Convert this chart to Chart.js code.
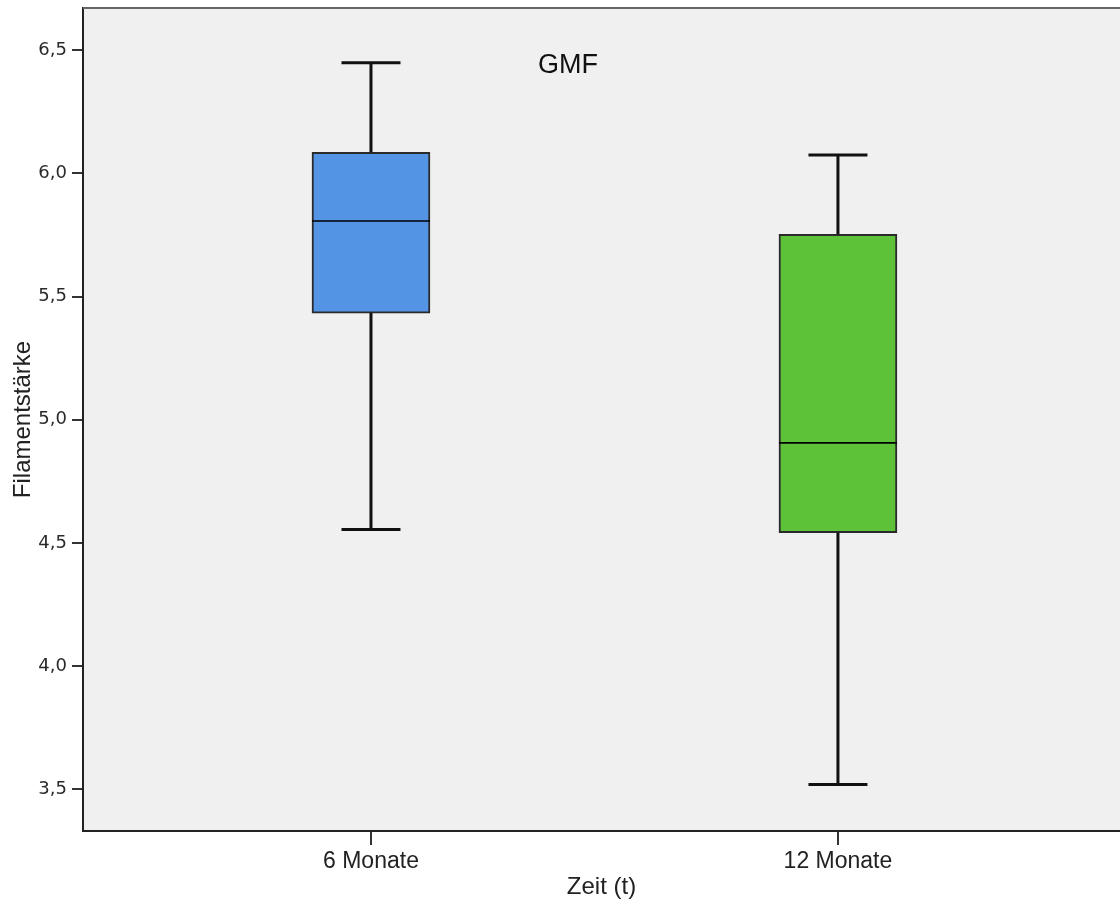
<!DOCTYPE html>
<html>
<head>
<meta charset="utf-8">
<script src="https://cdn.jsdelivr.net/npm/chart.js@4"></script>
<style>
  body { margin: 0; background: #fff; }
  #wrap { width: 1120px; height: 902px; }
</style>
</head>
<body>
<div id="wrap"><canvas id="boxChart" width="1120" height="902"></canvas></div>
<script>
// boxplot data
const categories = ["6 Monate", "12 Monate"];
const whiskerLow = [4.554, 3.519];
const quartile1 = [5.433, 4.541];
const medians = [5.807, 4.906];
const quartile3 = [6.086, 5.753];
const whiskerHigh = [6.450, 6.075];
const yTicks = [3.5, 4.0, 4.5, 5.0, 5.5, 6.0, 6.5];
const boxColors = ["#5494e4", "#5ec238"];

const labelFont = "'Liberation Sans', Arial, sans-serif";
const tickFont = "'DejaVu Sans', Verdana, sans-serif";

// plot background, whiskers, medians, frame and the GMF label
const boxPlugin = {
  id: "boxWhiskers",
  beforeDraw(chart) {
    const { ctx, chartArea: a } = chart;
    ctx.save();
    ctx.fillStyle = "#f0f0f0";
    ctx.fillRect(a.left, a.top, a.right - a.left, a.bottom - a.top);
    ctx.restore();
  },
  afterDatasetsDraw(chart) {
    const { ctx } = chart;
    const y = chart.scales.y;
    const meta = chart.getDatasetMeta(0);
    ctx.save();
    meta.data.forEach((bar, i) => {
      const px = bar.x;
      const half = bar.width / 2;
      const cap = bar.width / 4;
      ctx.strokeStyle = "#111";
      ctx.lineWidth = 3;
      ctx.beginPath();
      ctx.moveTo(px, y.getPixelForValue(quartile3[i]));
      ctx.lineTo(px, y.getPixelForValue(whiskerHigh[i]));
      ctx.moveTo(px, y.getPixelForValue(quartile1[i]));
      ctx.lineTo(px, y.getPixelForValue(whiskerLow[i]));
      ctx.moveTo(px - cap, y.getPixelForValue(whiskerHigh[i]));
      ctx.lineTo(px + cap, y.getPixelForValue(whiskerHigh[i]));
      ctx.moveTo(px - cap, y.getPixelForValue(whiskerLow[i]));
      ctx.lineTo(px + cap, y.getPixelForValue(whiskerLow[i]));
      ctx.stroke();

      ctx.strokeStyle = "#000";
      ctx.lineWidth = 1.6;
      ctx.beginPath();
      ctx.moveTo(px - half, y.getPixelForValue(medians[i]));
      ctx.lineTo(px + half, y.getPixelForValue(medians[i]));
      ctx.stroke();
    });
    ctx.restore();
  },
  afterDraw(chart) {
    const { ctx, chartArea: a } = chart;
    ctx.save();
    ctx.strokeStyle = "#666";
    ctx.lineWidth = 2;
    ctx.beginPath();
    ctx.moveTo(a.left, a.top);
    ctx.lineTo(a.right, a.top);
    ctx.stroke();

    ctx.fillStyle = "#111";
    ctx.font = "27px " + labelFont;
    ctx.textAlign = "center";
    ctx.textBaseline = "middle";
    ctx.fillText("GMF", a.left + (a.right - a.left) * 0.4677, a.top + 58);
    ctx.restore();
  },
};

const ctx = document.getElementById("boxChart").getContext("2d");
new Chart(ctx, {
  type: "bar",
  data: {
    datasets: [
      {
        data: categories.map((c, i) => ({ x: i, y: [quartile1[i], quartile3[i]] })),
        backgroundColor: boxColors,
        borderColor: "#2a2a2a",
        borderWidth: 2,
        borderSkipped: false,
        barThickness: 118,
      },
    ],
  },
  options: {
    responsive: false,
    animation: false,
    layout: { padding: { top: 8, right: 0, left: 0, bottom: 0 } },
    plugins: {
      legend: { display: false },
      tooltip: { enabled: false },
    },
    scales: {
      x: {
        type: "linear",
        offset: false,
        min: -0.6167,
        max: 1.604,
        afterBuildTicks: (s) => {
          s.ticks = categories.map((c, i) => ({ value: i }));
        },
        afterFit: (s) => {
          s.height = 71;
          s.paddingLeft = 0;
          s.paddingRight = 0;
        },
        ticks: {
          callback: (v) => categories[v],
          autoSkip: false,
          maxRotation: 0,
          padding: 3,
          color: "#222",
          font: { family: labelFont, size: 23 },
        },
        grid: { offset: false, drawOnChartArea: false, tickLength: 14, lineWidth: 2, color: "#333" },
        border: { color: "#222", width: 2 },
        title: {
          display: true,
          text: "Zeit (t)",
          color: "#222",
          font: { family: labelFont, size: 24 },
          padding: { top: 0, bottom: 0 },
        },
      },
      y: {
        min: 3.33,
        max: 6.672,
        afterBuildTicks: (s) => {
          s.ticks = yTicks.map((v) => ({ value: v }));
        },
        afterFit: (s) => {
          s.width = 83;
          s.paddingTop = 0;
          s.paddingBottom = 0;
        },
        ticks: {
          callback: (v) => v.toFixed(1).replace(".", ","),
          padding: 5,
          color: "#2a2a2a",
          font: { family: tickFont, size: 18 },
        },
        grid: { drawOnChartArea: false, tickLength: 11, lineWidth: 2, color: "#333" },
        border: { color: "#222", width: 2 },
        title: {
          display: true,
          text: "Filamentstärke",
          color: "#222",
          font: { family: labelFont, size: 24 },
          padding: { top: 9, bottom: 0 },
        },
      },
    },
  },
  plugins: [boxPlugin],
});
</script>
</body>
</html>
